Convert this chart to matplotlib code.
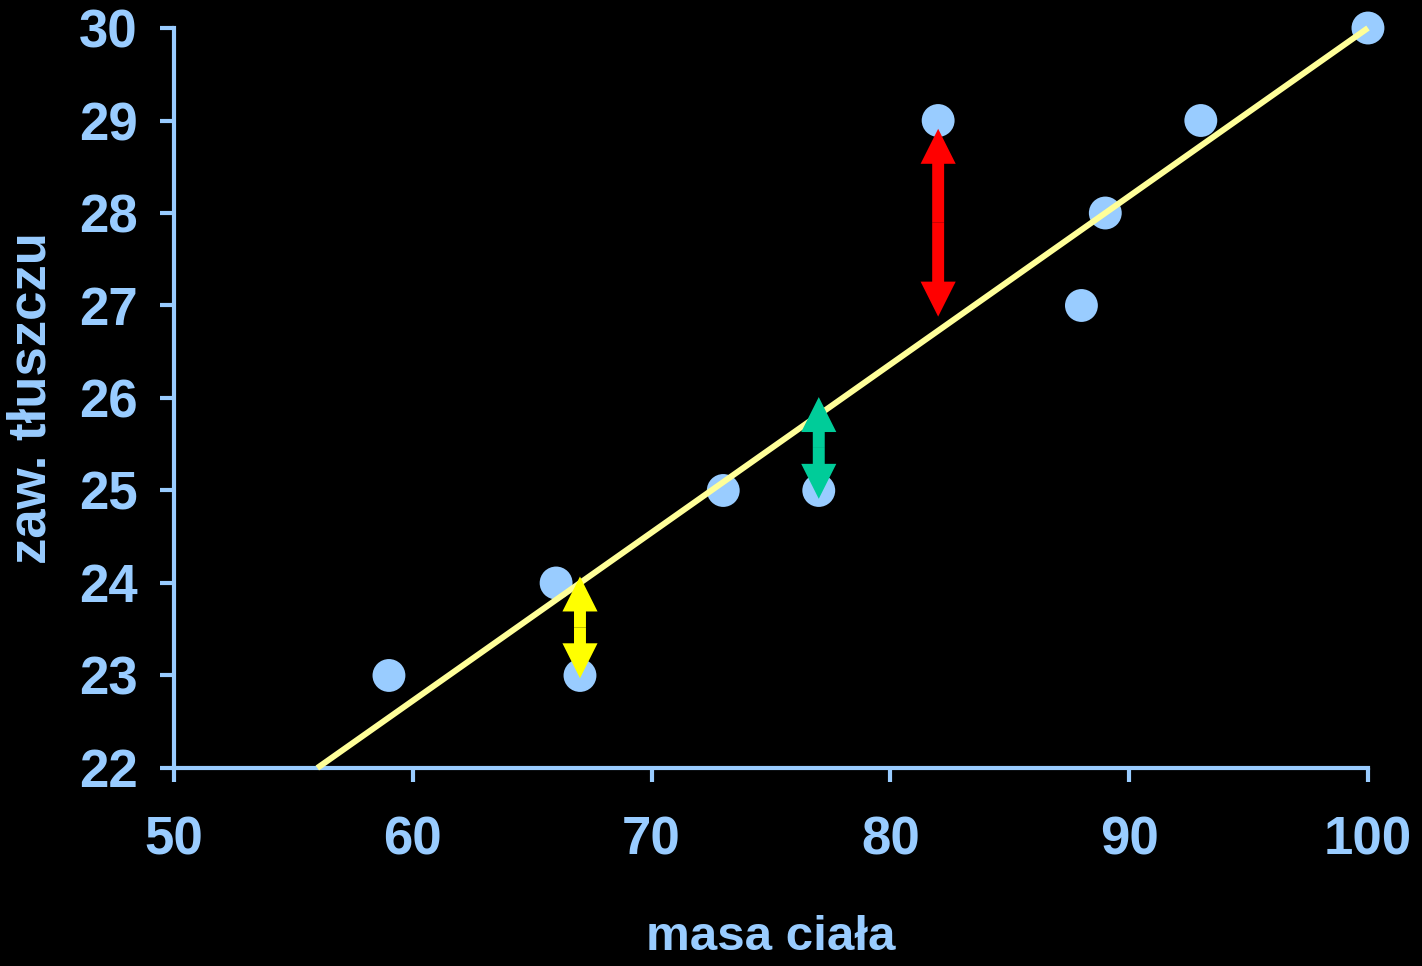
import matplotlib.pyplot as plt

# data
masa = [59, 66, 67, 73, 77, 82, 88, 89, 93, 100]
tluszcz = [23, 24, 23, 25, 25, 29, 27, 28, 29, 30]

# regression line end points
line_x = [56, 100]
line_y = [22, 30]

# residual arrows: x, bottom tip, top tip, colour
arrow_x = [67, 77, 82]
arrow_lo = [22.97, 24.91, 26.88]
arrow_hi = [24.07, 26.01, 28.91]
arrow_colors = ['#FFFF00', '#00CC99', '#FF0000']

blue = '#99CCFF'

plt.rcParams['font.family'] = ['Liberation Sans', 'DejaVu Sans']
plt.rcParams['font.weight'] = 'bold'

fig = plt.figure(figsize=(14.22, 9.66), dpi=100, facecolor='black')
ax = fig.add_axes([0.1224, 0.205, 0.8396, 0.766])
ax.set_facecolor('black')

ax.scatter(masa, tluszcz, s=560, color=blue, edgecolors='none', zorder=3, clip_on=False)
ax.plot(line_x, line_y, color='#FFFF99', lw=4.3, zorder=4, solid_capstyle='butt', clip_on=False)

for x, lo, hi, c in zip(arrow_x, arrow_lo, arrow_hi, arrow_colors):
    mid = (lo + hi) / 2
    for end in (lo, hi):
        ax.arrow(x, mid, 0, end - mid, width=0.5, head_width=1.47, head_length=0.378,
                 length_includes_head=True, color=c, lw=0, zorder=5)

ax.set_xlim(50, 100)
ax.set_ylim(22, 30)
ax.set_xticks(range(50, 101, 10))
ax.set_yticks(range(22, 31))

for side in ['top', 'right']:
    ax.spines[side].set_visible(False)
for side in ['left', 'bottom']:
    ax.spines[side].set_color(blue)
    ax.spines[side].set_linewidth(3)

ax.tick_params(axis='both', colors=blue, width=3, length=10, labelsize=38)
ax.tick_params(axis='y', pad=16)
ax.tick_params(axis='x', pad=24)
for lab in ax.get_xticklabels() + ax.get_yticklabels():
    lab.set_fontweight('bold')

ax.set_xlabel('masa ciała', color=blue, fontsize=35.5, fontweight='bold', labelpad=36)
ax.set_ylabel('zaw. tłuszczu', color=blue, fontsize=38, fontweight='bold', labelpad=16)

fig.savefig('out.png', dpi=100, facecolor='black')
